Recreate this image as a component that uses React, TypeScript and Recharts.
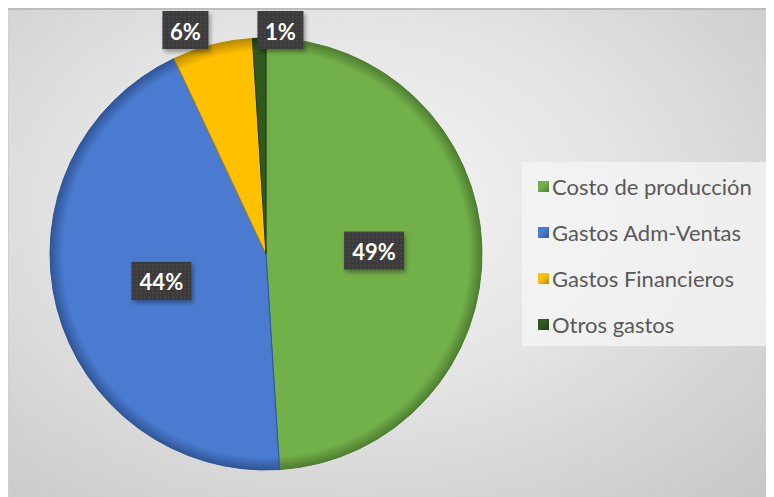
import { Cell, Legend, Pie, PieChart } from "recharts"

const categories = ["Costo de producción", "Gastos Adm-Ventas", "Gastos Financieros", "Otros gastos"]
const shares = [49, 44, 6, 1]
const colors = ["#72b04a", "#4a7bd0", "#ffc000", "#2f5a1e"]
const edgeColors = ["#4e7d30", "#2f5597", "#b88a00", "#1c3a10"]

const data = categories.map((name, i) => ({ name, value: shares[i] }))

const W = 766
const H = 489
const CX = 258
const CY = 246
const R = 216
const RAD = Math.PI / 180
const BOX_H = 38
const MIN_GAP = 95

// positions for small (outside) labels, spread apart so boxes don't collide
const total = shares.reduce((a, b) => a + b, 0)
const outside: Record<number, { x: number; y: number }> = {}
{
  let cum = 0
  const list: { i: number; x: number; y: number }[] = []
  shares.forEach((v, i) => {
    const theta = ((cum + v / 2) / total) * 360
    cum += v
    if (v / total < 0.1) {
      const rr = R + 20
      list.push({ i, x: CX + rr * Math.sin(theta * RAD), y: Math.max(22, CY - rr * Math.cos(theta * RAD)) })
    }
  })
  list.sort((a, b) => a.x - b.x)
  for (let k = 1; k < list.length; k++) {
    const dx = list[k].x - list[k - 1].x
    if (dx < MIN_GAP) {
      const push = (MIN_GAP - dx) / 2
      list[k - 1].x -= push
      list[k].x += push
    }
  }
  list.forEach((p) => (outside[p.i] = { x: p.x, y: p.y }))
}

const renderLabel = (props: any) => {
  const { cx, cy, midAngle, outerRadius, percent, index } = props
  const text = `${Math.round(percent * 100)}%`
  let x: number
  let y: number
  if (outside[index]) {
    x = outside[index].x
    y = outside[index].y
  } else {
    const r = outerRadius * 0.5
    x = cx + r * Math.cos(-midAngle * RAD)
    y = cy + r * Math.sin(-midAngle * RAD)
  }
  const w = text.length > 2 ? 60 : 46
  return (
    <g key={`lbl-${index}`}>
      <rect x={x - w / 2} y={y - BOX_H / 2} width={w} height={BOX_H} fill="url(#dots)" filter="url(#shadow)" />
      <text
        x={x}
        y={y + 1}
        textAnchor="middle"
        dominantBaseline="central"
        fill="#ffffff"
        fontFamily="Lato, sans-serif"
        fontWeight={700}
        fontSize={22}
      >
        {text}
      </text>
    </g>
  )
}

const renderLegend = () => (
  <div
    style={{
      width: 252,
      height: 184,
      paddingTop: 1,
      boxSizing: "border-box",
      background: "rgba(245,245,245,0.75)",
      fontFamily: "Lato, sans-serif",
      fontSize: 22,
      color: "#595959",
      whiteSpace: "nowrap",
    }}
  >
    {categories.map((name, i) => (
      <div key={name} style={{ height: 46, display: "flex", alignItems: "center", paddingLeft: 16 }}>
        <span
          style={{
            display: "inline-block",
            width: 11,
            height: 11,
            marginRight: 3,
            flexShrink: 0,
            background: `linear-gradient(135deg, ${colors[i]} 0%, ${colors[i]} 45%, ${edgeColors[i]} 100%)`,
          }}
        />
        {name}
      </div>
    ))}
  </div>
)

export default function App() {
  return (
    <div
      style={{
        width: W,
        height: H,
        background: "radial-gradient(ellipse at 45% 40%, #f5f5f5 0%, #e4e4e4 45%, #c6c6c6 100%)",
        boxShadow: "inset 0 2px 0 #bdbdbd, inset 1px 0 0 #d0d0d0",
        position: "relative",
      }}
    >
      <PieChart width={W} height={H} margin={{ top: 0, right: 0, bottom: 0, left: 0 }}>
        <defs>
          <pattern id="dots" width="4" height="4" patternUnits="userSpaceOnUse">
            <rect width="4" height="4" fill="#3b3b3b" />
            <circle cx="1" cy="1" r="0.8" fill="#4f4f4f" />
          </pattern>
          <filter id="shadow" x="-20%" y="-20%" width="150%" height="150%">
            <feDropShadow dx="2" dy="3" stdDeviation="2" floodColor="#000" floodOpacity="0.35" />
          </filter>
          {colors.map((c, i) => (
            <radialGradient key={c} id={`g${i}`} cx={CX} cy={CY} r={R} gradientUnits="userSpaceOnUse">
              <stop offset="0%" stopColor={c} />
              <stop offset="94%" stopColor={c} />
              <stop offset="100%" stopColor={edgeColors[i]} />
            </radialGradient>
          ))}
        </defs>
        <Pie
          data={data}
          dataKey="value"
          nameKey="name"
          cx={CX}
          cy={CY}
          outerRadius={R}
          startAngle={90}
          endAngle={-270}
          stroke="#1e2e14"
          strokeWidth={1}
          label={renderLabel}
          labelLine={false}
          isAnimationActive={false}
        >
          {data.map((d, i) => (
            <Cell key={d.name} fill={`url(#g${i})`} stroke={edgeColors[i]} />
          ))}
        </Pie>
        <Legend content={renderLegend} wrapperStyle={{ left: 514, top: 154, width: 252 }} />
      </PieChart>
    </div>
  )
}
